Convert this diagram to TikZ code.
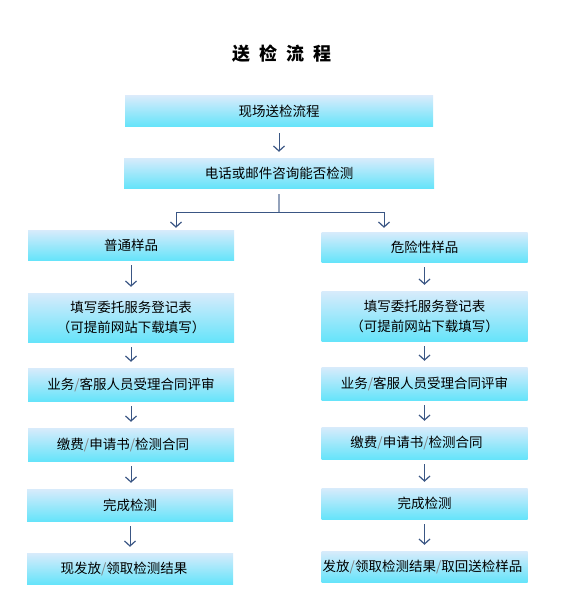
\documentclass[tikz,border=0pt]{standalone}
\usepackage{fontspec}
\newfontfamily\cjk{Noto Sans CJK SC}
\usetikzlibrary{arrows.meta}
\definecolor{boxtop}{RGB}{216,235,251}
\definecolor{boxbot}{RGB}{102,228,250}
\definecolor{arrowblue}{RGB}{58,86,132}
\def\sep{\textcolor{gray}{/}}

\begin{document}
\begin{tikzpicture}[x=1pt,y=-1pt,
    stepbox/.style={top color=boxtop,bottom color=boxbot,draw=none,
      minimum width=206pt,minimum height=31pt,inner sep=0pt,align=center,
      font=\cjk\fontsize{13.5}{20}\selectfont},
    flow/.style={draw=arrowblue,line width=1pt,
      -{Straight Barb[length=5pt,width=11pt,line width=1.2pt]},shorten <=5pt,shorten >=6pt},
    branch/.style={draw=arrowblue,line width=1pt}]
  \useasboundingbox (0,0) rectangle (562,615);
  \node (title) at (282,54) {\cjk\bfseries\fontsize{18}{18}\selectfont
    送\hspace{9pt}检\hspace{9pt}流\hspace{9pt}程};
  % top part
  \node[stepbox,minimum width=308pt,minimum height=30pt] (site) at (279,111) {现场送检流程};
  \node[stepbox,minimum width=310pt,minimum height=30pt] (ask) at (279,173) {电话或邮件咨询能否检测};
  \draw[flow,shorten <=7pt] (site.south) -- (site.south |- ask.north);
  \coordinate (split) at (279,212);
  \coordinate (lsplit) at (176,212);
  \coordinate (rsplit) at (384,212);
  \draw[branch,draw=arrowblue!55,line width=1.5pt] ([yshift=-6pt]ask.south) -- (split);
  \draw[branch] (lsplit) -- (rsplit);
  % normal samples
  \node[stepbox,minimum height=30pt] (normal) at (131,245) {普通样品};
  \node[stepbox,minimum height=49pt] (nform) at (131,317.5) {填写委托服务登记表\\（可提前网站下载填写）};
  \node[stepbox,minimum height=33pt] (nreview) at (131,384.5) {业务\sep 客服人员受理合同评审};
  \node[stepbox,minimum height=33pt] (npay) at (131,444.5) {缴费\sep 申请书\sep 检测合同\hspace{16pt}};
  \node[stepbox,minimum height=32pt] (ndone) at (130,505) {完成检测};
  \node[stepbox,minimum height=31pt] (nresult) at (130,568.5) {现发放\sep 领取检测结果\hspace{12pt}};
  % hazardous samples
  \node[stepbox,minimum height=30pt] (hazard) at (424.5,247) {危险性样品};
  \node[stepbox,minimum height=50pt] (hform) at (424.5,316) {填写委托服务登记表\\（可提前网站下载填写）};
  \node[stepbox,minimum height=33pt] (hreview) at (424.5,383.5) {业务\sep 客服人员受理合同评审};
  \node[stepbox,minimum height=32pt] (hpay) at (424.5,443) {缴费\sep 申请书\sep 检测合同\hspace{16pt}};
  \node[stepbox,minimum height=31pt] (hdone) at (424.5,503.5) {完成检测};
  \node[stepbox,minimum height=31pt] (hresult) at (424.5,566.5) {发放\sep 领取检测结果\sep 取回送检样品\hspace{4pt}};
  \draw[flow,shorten <=0pt,shorten >=2pt] (lsplit) -- (lsplit |- normal.north);
  \draw[flow,shorten <=0pt,shorten >=4pt] (rsplit) -- (rsplit |- hazard.north);
  \foreach \a/\b in {normal/nform,nform/nreview,nreview/npay,npay/ndone,ndone/nresult,
                     hazard/hform,hform/hreview,hreview/hpay,hpay/hdone,hdone/hresult}
    \draw[flow] (\a.south) -- (\a.south |- \b.north);
\end{tikzpicture}
\end{document}
